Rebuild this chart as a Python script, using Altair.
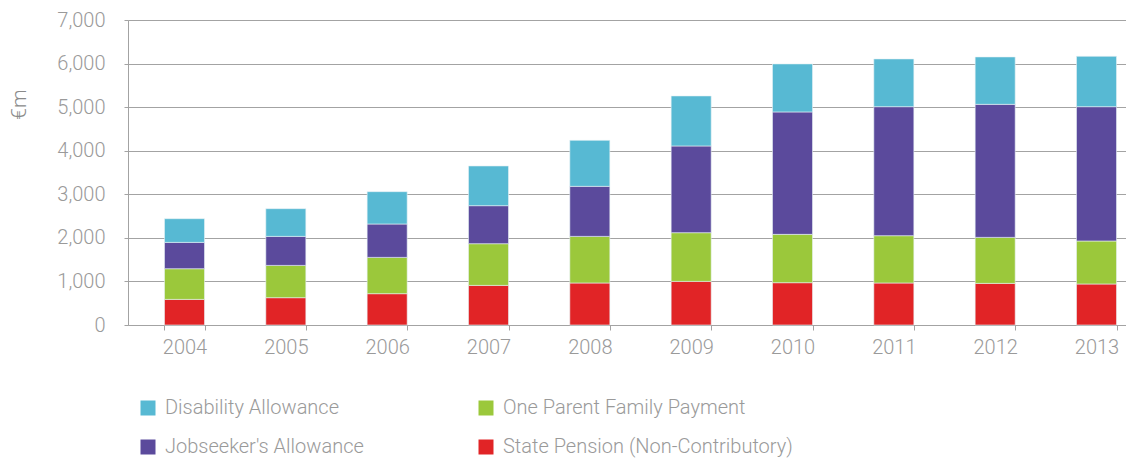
import altair as alt
import pandas as pd

years = ["2004", "2005", "2006", "2007", "2008", "2009", "2010", "2011", "2012", "2013"]
state_pension = [588, 627, 719, 909, 964, 1001, 971, 964, 955, 941]
one_parent = [704, 741, 833, 957, 1070, 1118, 1109, 1086, 1056, 987]
jobseekers = [604, 666, 766, 873, 1148, 1990, 2810, 2961, 3053, 3083]
disability = [544, 636, 742, 911, 1056, 1148, 1102, 1095, 1088, 1155]

series_names = [
    "Disability Allowance",
    "One Parent Family Payment",
    "Jobseeker's Allowance",
    "State Pension (Non-Contributory)",
]
stack_order = {
    "State Pension (Non-Contributory)": 0,
    "One Parent Family Payment": 1,
    "Jobseeker's Allowance": 2,
    "Disability Allowance": 3,
}
bar_colors = ["#57B9D3", "#9BC83B", "#5B4A9C", "#E12426"]

rows = []
for name, vals in [
    ("State Pension (Non-Contributory)", state_pension),
    ("One Parent Family Payment", one_parent),
    ("Jobseeker's Allowance", jobseekers),
    ("Disability Allowance", disability),
]:
    for y, v in zip(years, vals):
        rows.append({"year": y, "series": name, "value": v, "order": stack_order[name]})
df = pd.DataFrame(rows)

FONT = "Roboto"
GRAY = "#9a9a9a"
LINE = "#a3a3a3"

chart = (
    alt.Chart(df)
    .mark_bar(stroke="#e8f2f5", strokeWidth=0.6)
    .encode(
        x=alt.X(
            "year:N",
            sort=years,
            scale=alt.Scale(range=[0, 1025], paddingInner=0.605, paddingOuter=0.36),
            axis=alt.Axis(
                title=None,
                labelAngle=0,
                labelFontSize=20,
                labelColor=GRAY,
                labelFont=FONT,
                labelFontWeight=300,
                labelPadding=7,
                tickBand="extent",
                tickSize=5,
                tickColor=LINE,
                domainColor=LINE,
                grid=False,
            ),
        ),
        y=alt.Y(
            "value:Q",
            stack="zero",
            scale=alt.Scale(domain=[0, 7000], nice=False),
            axis=alt.Axis(
                values=[0, 1000, 2000, 3000, 4000, 5000, 6000, 7000],
                labelExpr="format(datum.value, ',.0f')",
                grid=True,
                gridColor=LINE,
                gridWidth=1,
                tickSize=4,
                tickColor=LINE,
                domainColor=LINE,
                labelFontSize=20,
                labelColor=GRAY,
                labelFont=FONT,
                labelFontWeight=300,
                labelPadding=19,
                title="€m",
                titleFont=FONT,
                titleFontSize=21,
                titleFontWeight=300,
                titleColor="#8a8a8a",
                titleAngle=270,
                titleAlign="center",
                titleBaseline="alphabetic",
                titleX=-103,
                titleY=84,
            ),
        ),
        color=alt.Color(
            "series:N",
            scale=alt.Scale(domain=series_names, range=bar_colors),
            legend=alt.Legend(
                title=None,
                orient="none",
                legendX=10,
                legendY=378,
                columns=2,
                direction="horizontal",
                padding=0,
                symbolType="square",
                symbolSize=225,
                symbolStrokeWidth=0,
                symbolOpacity=1,
                labelFont=FONT,
                labelFontWeight=300,
                labelFontSize=20,
                labelColor=GRAY,
                labelOffset=7,
                labelLimit=400,
                columnPadding=112,
                rowPadding=19,
            ),
        ),
        order=alt.Order("order:Q", sort="ascending"),
    )
    .properties(
        width=998,
        height=305,
        padding={"left": 120, "top": 12, "right": 0, "bottom": 134},
        autosize=alt.AutoSizeParams(type="none"),
    )
    .configure_view(stroke=None)
    .configure(background="white", font=FONT)
)

chart.save("out.html", embed_options={"renderer": "svg", "actions": False})
